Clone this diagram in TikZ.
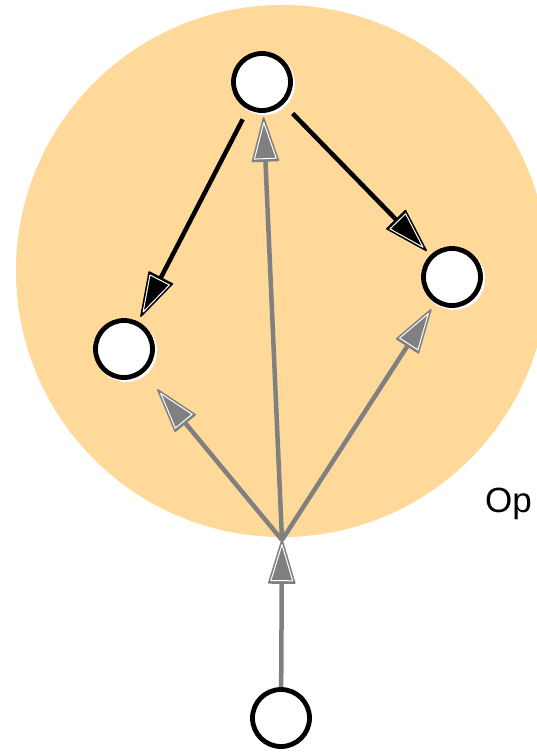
\documentclass[tikz,border=0pt]{standalone}
\usepackage{fontspec}
\setmainfont{Liberation Sans}
\usetikzlibrary{calc}
\definecolor{zone}{RGB}{254,217,153}
\definecolor{flow}{RGB}{128,128,128}
\tikzset{
  state/.style={circle, draw=black, fill=white, line width=4.8pt, minimum size=57pt, inner sep=0pt},
  halo/.style={circle, fill=white, minimum size=62pt, inner sep=0pt},
}
% \link{from}{to}{gap at start}{gap at end}{colour}: shaft plus a slim triangular head with a white inner rim
\newcommand\link[5]{%
  \path ($(#1)!#3!(#2)$) coordinate (S)
        ($(#2)!#4!(#1)$) coordinate (T);
  \path ($(T)!43pt!(S)$) coordinate (B);
  \path ($(B)!13pt!90:(T)$) coordinate (L)
        ($(B)!13pt!-90:(T)$) coordinate (R)
        ($(T)!0.667!(B)$) coordinate (C);
  \draw[#5, line width=4.5pt] (S) -- ($(T)!20pt!(S)$);
  \filldraw[#5, line width=1.6pt, line join=round] (T) -- (L) -- (R) -- cycle;
  \draw[white, line width=1pt, line join=round]
    ($(C)!0.84!(T)$) -- ($(C)!0.84!(L)$) -- ($(C)!0.84!(R)$) -- cycle;
}
\begin{document}
\begin{tikzpicture}[x=1pt, y=-1pt]
  \useasboundingbox (0,0) rectangle (537,752);
  % shaded region
  \fill[zone] (282,271) circle (266);
  \node[anchor=base west, inner sep=0pt, font=\fontsize{35}{42}\selectfont] (lbl) at (485,512) {Op};
  % white halos slightly offset behind the states
  \node[halo] at (264,84) {};
  \node[halo] at (126,351) {};
  \node[halo] at (454,279) {};
  % states
  \node[state] (top) at (262,82) {};
  \node[state] (left) at (124,349) {};
  \node[state] (right) at (452,277) {};
  \node[state] (bot) at (281,718) {};
  \coordinate (J) at (282,540);
  % connectors
  \link{top.center}{left.center}{42pt}{37pt}{black}
  \link{top.center}{right.center}{44pt}{37pt}{black}
  \link{J}{left.center}{0pt}{53pt}{flow}
  \link{J}{top.center}{0pt}{36pt}{flow}
  \link{J}{right.center}{0pt}{39pt}{flow}
  \link{bot.center}{J}{31pt}{0pt}{flow}
\end{tikzpicture}
\end{document}
